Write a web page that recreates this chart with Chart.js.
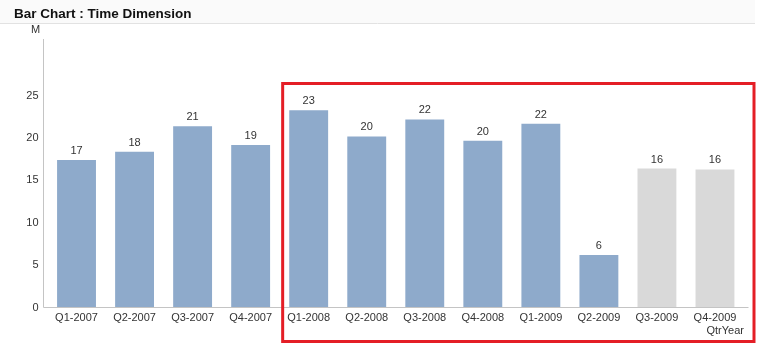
<!DOCTYPE html>
<html>
<head>
<meta charset="utf-8">
<script src="https://cdn.jsdelivr.net/npm/chart.js@4/dist/chart.umd.min.js"></script>
<style>
  html, body { margin: 0; padding: 0; background: #ffffff; }
  #wrap { position: relative; width: 764px; height: 348px; }
</style>
</head>
<body>
<div id="wrap"><canvas id="chart" width="764" height="348"></canvas></div>
<script>
// Chart data
const quarters = ["Q1-2007", "Q2-2007", "Q3-2007", "Q4-2007", "Q1-2008", "Q2-2008",
  "Q3-2008", "Q4-2008", "Q1-2009", "Q2-2009", "Q3-2009", "Q4-2009"];
const salesM = [17.4, 18.4, 21.4, 19.2, 23.3, 20.2, 22.2, 19.7, 21.7, 6.2, 16.4, 16.3];
const yTicks = [0, 5, 10, 15, 20, 25];
// first highlighted quarter and number of actual (non grey) quarters
const highlightFrom = 4;
const actualCount = 10;

const fontFamily = "'Liberation Sans', Arial, sans-serif";
const textColor = "#333333";
const axisColor = "#c4c4c4";

// draws title, axis lines, "M" label, value labels and the red frame
const decorPlugin = {
  id: "decor",
  afterDatasetsDraw(chart) {
    const ctx = chart.ctx;
    const area = chart.chartArea;
    const xScale = chart.scales.x;
    const meta = chart.getDatasetMeta(0);

    ctx.save();
    // title + separator
    ctx.fillStyle = "#fafafa";
    ctx.fillRect(0, 0, 755, 23);
    ctx.fillStyle = "#111111";
    ctx.font = "bold 13.5px " + fontFamily;
    ctx.textBaseline = "middle";
    ctx.textAlign = "left";
    ctx.fillText("Bar Chart : Time Dimension", 14, 14);
    ctx.strokeStyle = "#e2e2e2";
    ctx.lineWidth = 1;
    ctx.beginPath();
    ctx.moveTo(0, 23.5);
    ctx.lineTo(755, 23.5);
    ctx.stroke();

    // axis lines
    ctx.strokeStyle = axisColor;
    ctx.beginPath();
    ctx.moveTo(area.left - 4, area.top);
    ctx.lineTo(area.left - 4, area.bottom);
    ctx.lineTo(area.right + 4.5, area.bottom);
    ctx.stroke();

    // y unit
    ctx.fillStyle = textColor;
    ctx.font = "11px " + fontFamily;
    ctx.textAlign = "center";
    ctx.fillText("M", area.left - 12, 30);

    // value labels
    ctx.textBaseline = "alphabetic";
    meta.data.forEach(function (bar, i) {
      ctx.fillText(String(Math.round(salesM[i])), bar.x, bar.y - 6);
    });

    // red highlight frame
    const half = (xScale.getPixelForValue(1) - xScale.getPixelForValue(0)) / 2;
    const left = xScale.getPixelForValue(highlightFrom) - half + 3;
    const right = xScale.getPixelForValue(quarters.length - 1) + half + 10;
    ctx.strokeStyle = "#e41e26";
    ctx.lineWidth = 3;
    ctx.strokeRect(left, 83.5, right - left, 258);
    ctx.restore();
  },
};

new Chart(document.getElementById("chart"), {
  type: "bar",
  data: {
    labels: quarters,
    datasets: [
      {
        label: "M",
        data: salesM,
        backgroundColor: salesM.map((v, i) => (i < actualCount ? "#8eaacb" : "#d9d9d9")),
        categoryPercentage: 1,
        barPercentage: 0.67,
      },
    ],
  },
  options: {
    responsive: false,
    animation: false,
    layout: { padding: { top: 39, right: 20, left: 0, bottom: 0 } },
    plugins: {
      legend: { display: false },
      tooltip: { enabled: false },
    },
    scales: {
      x: {
        grid: { display: false, drawTicks: false },
        border: { display: false },
        ticks: {
          color: textColor,
          font: { family: fontFamily, size: 11 },
          padding: 4,
          maxRotation: 0,
          autoSkip: false,
        },
        title: {
          display: true,
          text: "QtrYear",
          align: "end",
          color: textColor,
          font: { family: fontFamily, size: 11 },
          padding: { top: 0, bottom: 10 },
        },
        afterFit(scale) {
          scale.height = 40.5;
        },
      },
      y: {
        min: 0,
        max: 31.7,
        grid: { display: false, drawTicks: false },
        border: { display: false },
        afterBuildTicks(scale) {
          scale.ticks = yTicks.map((v) => ({ value: v }));
        },
        ticks: {
          color: textColor,
          font: { family: fontFamily, size: 11 },
          padding: 9,
        },
        afterFit(scale) {
          scale.width = 47.5;
        },
      },
    },
  },
  plugins: [decorPlugin],
});
</script>
</body>
</html>
